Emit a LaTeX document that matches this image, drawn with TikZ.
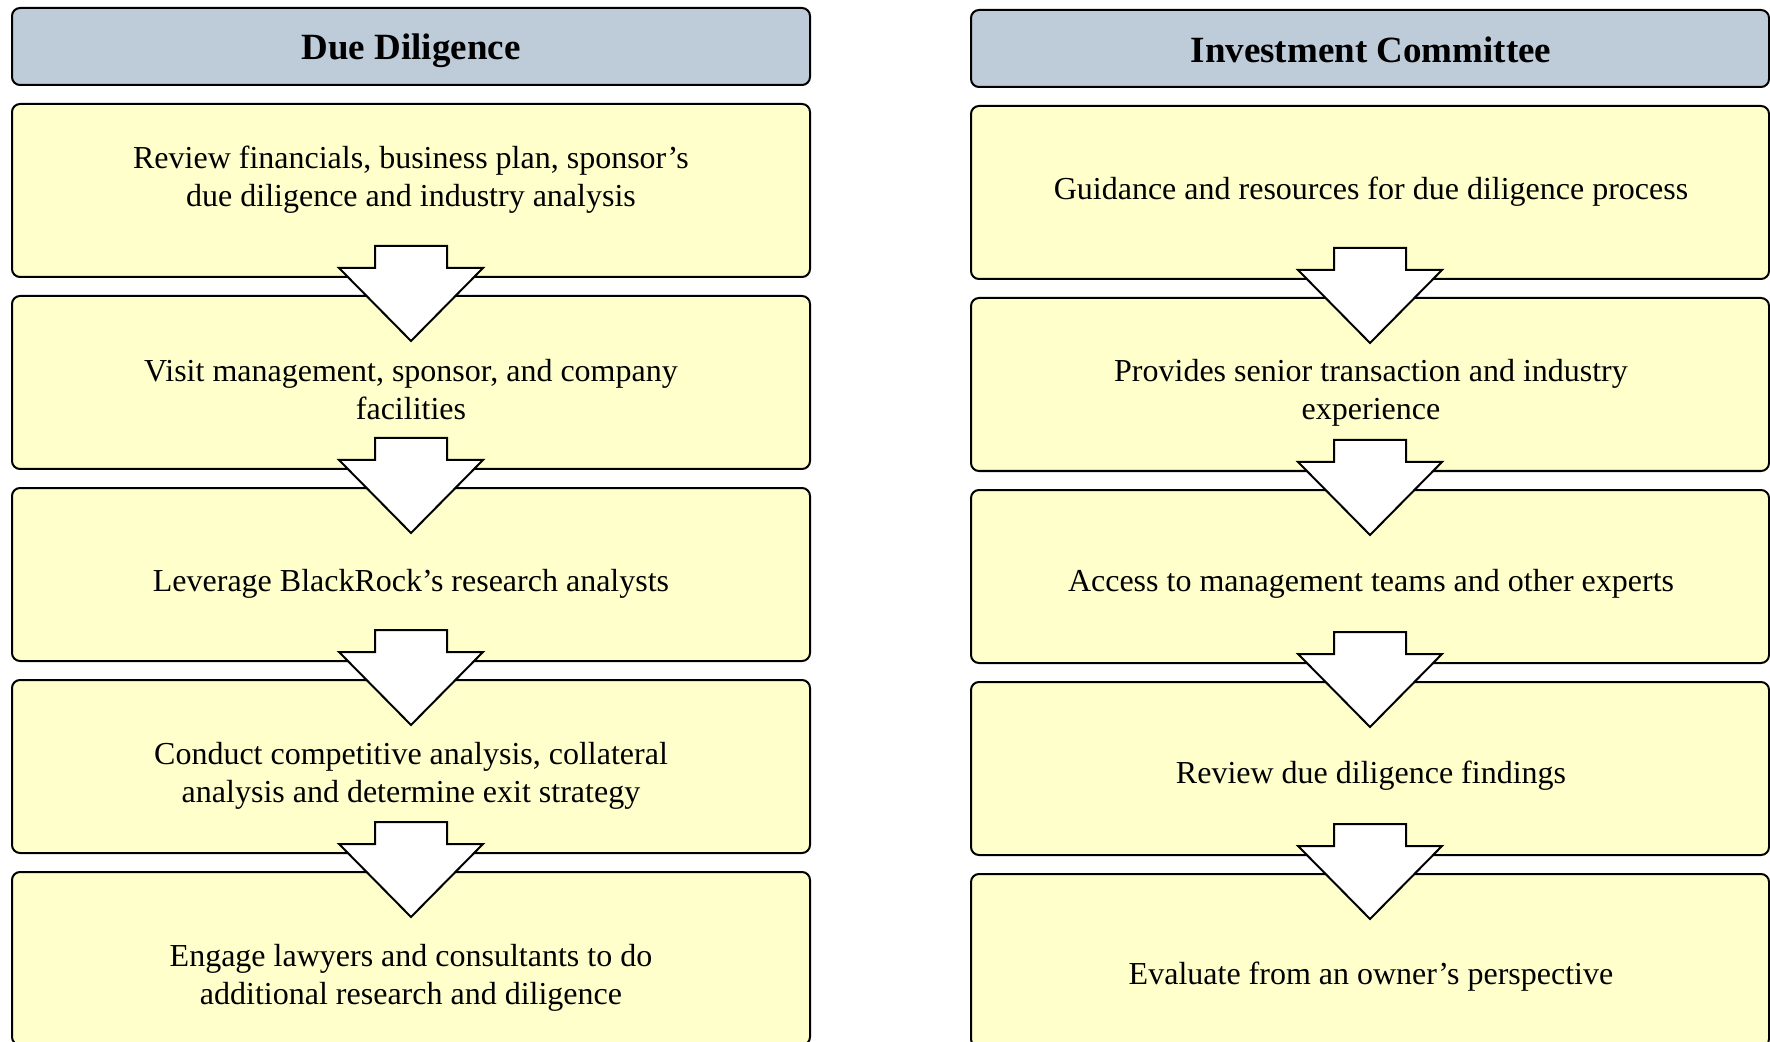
\documentclass[tikz,border=0pt]{standalone}
\usepackage{fontspec}
\setmainfont{Liberation Serif}
\definecolor{headblue}{RGB}{190,203,216}
\definecolor{stepyellow}{RGB}{255,255,204}
\begin{document}
\begin{tikzpicture}[x=0.5pt,y=-0.5pt,
    headbox/.style={draw,line width=1pt,rounded corners=4pt,fill=headblue,
      minimum width=399pt,minimum height=38.5pt,inner sep=0pt},
    stepbox/.style={draw,line width=1pt,rounded corners=4pt,fill=stepyellow,
      minimum width=399pt,minimum height=86.5pt,inner sep=0pt},
    headtext/.style={font=\bfseries\fontsize{18.5}{22}\selectfont,inner sep=0pt},
    steptext/.style={align=center,font=\fontsize{16}{19}\selectfont,inner sep=0pt},
    downarrow/.style={draw,line width=1pt,fill=white,line join=miter}]
  \useasboundingbox (0,0) rectangle (1770,1042);
  \clip (0,0) rectangle (1770,1042);

  % left column
  \node[headbox] (ddhead) at (411,46.5) {};
  \node[stepbox] (dd1) at (411,190.5) {};
  \node[stepbox] (dd2) at (411,382.5) {};
  \node[stepbox] (dd3) at (411,574.5) {};
  \node[stepbox] (dd4) at (411,766.5) {};
  \node[stepbox] (dd5) at (411,958.5) {};

  % right column
  \node[headbox] (ichead) at (1370,48.5) {};
  \node[stepbox] (ic1) at (1370,192.5) {};
  \node[stepbox] (ic2) at (1370,384.5) {};
  \node[stepbox] (ic3) at (1370,576.5) {};
  \node[stepbox] (ic4) at (1370,768.5) {};
  \node[stepbox] (ic5) at (1370,960.5) {};

  % block arrows
  \foreach \a/\b in {dd1/dd2,dd2/dd3,dd3/dd4,dd4/dd5,ic1/ic2,ic2/ic3,ic3/ic4,ic4/ic5}
    \draw[downarrow] (\a.south) ++(-36,-32) -- ++(72,0) -- ++(0,22) -- ++(36,0)
      -- ++(-72,73) -- ++(-72,-73) -- ++(36,0) -- cycle;

  % texts
  \node[headtext] (ddtitle) at (411,51) {Due Diligence};
  \node[steptext] (dd1t) at (411,179.5) {Review financials, business plan, sponsor's\\due diligence and industry analysis};
  \node[steptext] (dd2t) at (411,389.5) {Visit management, sponsor, and company\\facilities};
  \node[steptext] (dd3t) at (411,583.5) {Leverage BlackRock's research analysts};
  \node[steptext] (dd4t) at (411,775.5) {Conduct competitive analysis, collateral\\analysis and determine exit strategy};
  \node[steptext] (dd5t) at (411,977.5) {Engage lawyers and consultants to do\\additional research and diligence};

  \node[headtext] (ictitle) at (1371,50) {Investment Committee};
  \node[steptext] (ic1t) at (1371,192) {Guidance and resources for due diligence process};
  \node[steptext] (ic2t) at (1371,392.5) {Provides senior transaction and industry\\experience};
  \node[steptext] (ic3t) at (1371,583.5) {Access to management teams and other experts};
  \node[steptext] (ic4t) at (1371,775.5) {Review due diligence findings};
  \node[steptext] (ic5t) at (1371,976.5) {Evaluate from an owner's perspective};
\end{tikzpicture}
\end{document}
